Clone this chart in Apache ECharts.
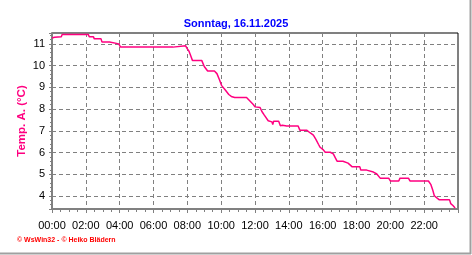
<!DOCTYPE html>
<html>
<head>
<meta charset="utf-8">
<script src="https://cdn.jsdelivr.net/npm/echarts@6/dist/echarts.min.js"></script>
<style>html,body{margin:0;padding:0;background:#fff}#c{width:472px;height:255px}</style>
</head>
<body>
<div id="c"></div>
<script>
var titleText = 'Sonntag, 16.11.2025';
var yName = 'Temp. A. (°C)';
var footerText = '© WsWin32 - © Heiko Blädern';
var hours = [0.0,0.15,0.2,0.55,0.6,0.7,0.75,0.85,0.9,2.15,2.2,2.45,2.5,2.9,2.95,3.4,3.45,3.95,4.05,7.15,7.2,7.9,8.0,8.1,8.2,8.3,8.85,9.0,9.2,9.6,9.75,9.9,10.02,10.22,10.45,10.6,10.8,11.5,11.7,11.9,12.0,12.3,12.4,12.55,12.78,13.0,13.05,13.1,13.4,13.5,13.55,13.62,13.87,14.55,14.65,15.05,15.25,15.45,15.6,15.75,15.85,16.04,16.15,16.45,16.63,16.75,16.85,17.2,17.3,17.5,17.6,17.75,18.2,18.25,18.6,18.7,19.0,19.1,19.2,19.3,19.4,19.9,20.0,20.5,20.57,21.07,21.16,22.25,22.4,22.5,22.6,22.75,22.9,23.5,23.57,23.7,23.83];
var temps = [11.27,11.30,11.33,11.33,11.43,11.38,11.43,11.38,11.43,11.43,11.33,11.33,11.23,11.23,11.09,11.09,11.0,11.0,10.85,10.85,10.91,10.91,10.77,10.66,10.45,10.24,10.24,9.96,9.75,9.75,9.63,9.35,9.09,8.90,8.67,8.58,8.53,8.53,8.37,8.21,8.10,8.07,7.9,7.72,7.46,7.41,7.29,7.44,7.44,7.23,7.31,7.25,7.22,7.22,7.03,7.03,6.91,6.80,6.6,6.38,6.24,6.12,6.01,6.01,5.94,5.75,5.60,5.60,5.51,5.51,5.43,5.34,5.34,5.19,5.19,5.10,5.10,5.01,5.01,4.92,4.82,4.82,4.69,4.69,4.82,4.82,4.69,4.69,4.52,4.29,4.01,3.91,3.82,3.82,3.65,3.56,3.45];

var data = hours.map(function(h,i){return [h, temps[i]];});
function pad(n){return (n<10?'0':'')+n;}
var font = 'Liberation Sans, Arial, sans-serif';

var chart = echarts.init(document.getElementById('c'), null, {renderer:'canvas'});
chart.setOption({
  animation:false,
  backgroundColor:'#ffffff',
  title:{text:titleText,left:'center',top:13,textStyle:{fontFamily:font,fontSize:11,fontWeight:'bold',color:'#0000ff'}},
  grid:{left:52,right:14,top:33,bottom:46,show:true,borderColor:'#000000',borderWidth:1,backgroundColor:'transparent'},
  xAxis:{type:'value',min:0,max:24,interval:2,
    axisLine:{show:true,lineStyle:{color:'#808080',width:2}},
    axisTick:{show:true,length:4,lineStyle:{color:'#808080',width:1}},
    minorTick:{show:true,splitNumber:4,length:3,lineStyle:{color:'#808080',width:1}},
    axisLabel:{showMaxLabel:false,margin:11,fontFamily:font,fontSize:11,color:'#000000',formatter:function(v){return pad(v)+':00';}},
    splitLine:{show:true,lineStyle:{color:'#808080',type:[4,3],width:1}}
  },
  yAxis:{type:'value',min:3.4,max:11.5,splitNumber:8,
    name:yName,nameLocation:'middle',nameGap:24,nameMoveOverlap:false,
    nameTextStyle:{fontFamily:font,fontSize:11.5,fontWeight:'bold',color:'#ff0080'},
    axisLine:{show:true,lineStyle:{color:'#808080',width:2}},
    axisTick:{show:true,length:3,lineStyle:{color:'#808080'}},
    minorTick:{show:true,splitNumber:5,length:2,lineStyle:{color:'#808080'}},
    axisLabel:{showMinLabel:false,showMaxLabel:false,margin:7,fontFamily:font,fontSize:11,color:'#000000'},
    splitLine:{show:true,lineStyle:{color:'#808080',type:[4,3],width:1}}
  },
  series:[{type:'line',data:data,showSymbol:false,symbol:'none',lineStyle:{color:'#ff0080',width:1.5},z:5}],
  graphic:[
    {type:'text',left:17,top:237,style:{text:footerText,fontFamily:font,fontSize:7,fontWeight:'bold',fill:'#ff0000'}},
    {type:'line',shape:{x1:470.5,y1:0,x2:470.5,y2:254},style:{stroke:'#a0a0a0',lineWidth:2}},
    {type:'line',shape:{x1:0,y1:253.5,x2:471,y2:253.5},style:{stroke:'#a0a0a0',lineWidth:2}}
  ]
});
</script>
</body>
</html>
